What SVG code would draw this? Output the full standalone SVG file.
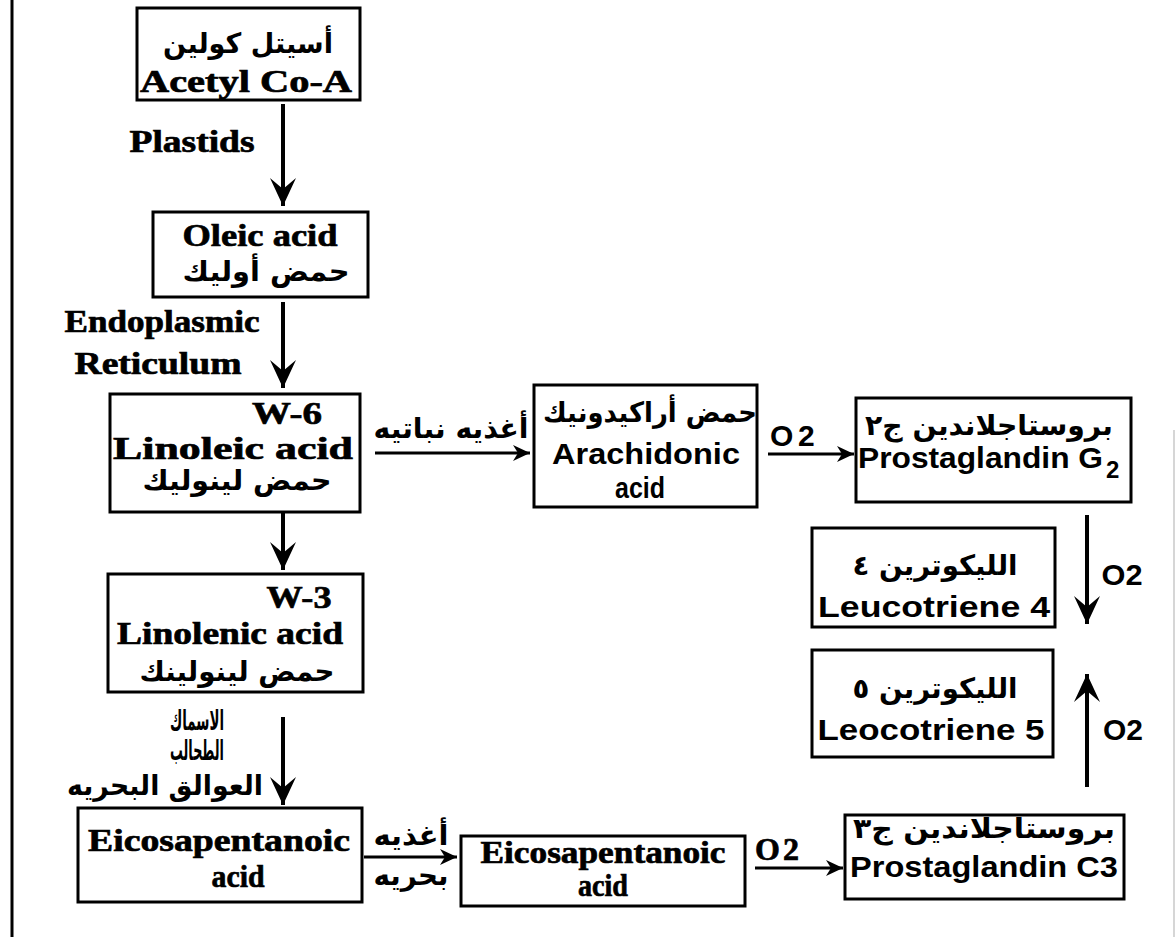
<svg xmlns="http://www.w3.org/2000/svg" width="1176" height="937" viewBox="0 0 1176 937">
<style>
.box{fill:#fff;stroke:#000;stroke-width:3}
.en{font-family:"Liberation Serif","Times New Roman",serif;font-weight:bold;font-size:32px;fill:#000;stroke:#000;stroke-width:0.7}
.sn{font-family:"Liberation Sans",Arial,sans-serif;font-weight:bold;font-size:30px;fill:#000}
.ar{font-family:"DejaVu Sans","Noto Sans",sans-serif;font-weight:bold;font-size:28px;fill:#000}
.shaft{stroke:#000;stroke-width:4;fill:none}
.shaft2{stroke:#000;stroke-width:3;fill:none}
</style>
<defs>
<marker id="big" viewBox="-30 -15 32 30" refX="0" refY="0" markerWidth="32" markerHeight="30" markerUnits="userSpaceOnUse" orient="auto">
<path d="M0,0 L-28,-13 L-17,0 L-28,13 Z" fill="#000"/>
</marker>
<marker id="small" viewBox="-18 -9 20 18" refX="0" refY="0" markerWidth="20" markerHeight="18" markerUnits="userSpaceOnUse" orient="auto">
<path d="M0,0 L-17,-8 L-12,0 L-17,8 Z" fill="#000"/>
</marker>
</defs>
<rect width="1176" height="937" fill="#fff"/>
<line x1="12" y1="0" x2="12" y2="937" stroke="#000" stroke-width="3"/>
<line x1="1174" y1="430" x2="1174" y2="937" stroke="#c8c8c8" stroke-width="1.5"/>

<g id="connectors">
<line class="shaft" x1="283" y1="104" x2="283" y2="206" marker-end="url(#big)"/>
<line class="shaft" x1="283" y1="302" x2="283" y2="388" marker-end="url(#big)"/>
<line class="shaft" x1="283" y1="513" x2="283" y2="570" marker-end="url(#big)"/>
<line class="shaft" x1="283" y1="717" x2="283" y2="805" marker-end="url(#big)"/>
<line class="shaft2" x1="375" y1="453" x2="530" y2="453" marker-end="url(#small)"/>
<line class="shaft2" x1="768" y1="454" x2="854" y2="454" marker-end="url(#small)"/>
<line class="shaft" x1="1087" y1="515" x2="1087" y2="624" marker-end="url(#big)"/>
<line class="shaft" x1="1087" y1="787" x2="1087" y2="674" marker-end="url(#big)"/>
<line class="shaft2" x1="364" y1="857" x2="457" y2="857" marker-end="url(#small)"/>
<line class="shaft2" x1="755" y1="868" x2="843" y2="868" marker-end="url(#small)"/>
<text class="en" x="192" y="152" textLength="125" lengthAdjust="spacingAndGlyphs" text-anchor="middle">Plastids</text>
<text class="en" x="162" y="332" textLength="195" lengthAdjust="spacingAndGlyphs" text-anchor="middle">Endoplasmic</text>
<text class="en" x="158" y="374" textLength="167" lengthAdjust="spacingAndGlyphs" text-anchor="middle">Reticulum</text>
<text class="ar" x="451" y="438" textLength="155" lengthAdjust="spacingAndGlyphs" text-anchor="middle">أغذيه نباتيه</text>
<text class="sn" x="770" y="446" font-size="30">O<tspan x="798">2</tspan></text>
<text class="sn" x="1122" y="585" font-size="28" textLength="41" lengthAdjust="spacingAndGlyphs" text-anchor="middle">O2</text>
<text class="sn" x="1123" y="740" font-size="28" textLength="40" lengthAdjust="spacingAndGlyphs" text-anchor="middle">O2</text>
<text class="ar" x="197" y="730" font-size="20" textLength="54" lengthAdjust="spacingAndGlyphs" text-anchor="middle">الاسماك</text>
<text class="ar" x="197" y="760" font-size="20" textLength="54" lengthAdjust="spacingAndGlyphs" text-anchor="middle">الطحالب</text>
<text class="ar" x="165" y="795" font-size="22" textLength="196" lengthAdjust="spacingAndGlyphs" text-anchor="middle">العوالق البحريه</text>
<text class="ar" x="411" y="845" font-size="22" textLength="75" lengthAdjust="spacingAndGlyphs" text-anchor="middle">أغذيه</text>
<text class="ar" x="411" y="885" font-size="22" textLength="75" lengthAdjust="spacingAndGlyphs" text-anchor="middle">بحريه</text>
<text class="en" x="755" y="860" font-size="30">O<tspan x="783">2</tspan></text>
</g>

<g id="acetyl">
<rect class="box" x="137" y="8" width="223" height="92"/>
<text class="ar" x="248" y="53" font-size="32" textLength="170" lengthAdjust="spacingAndGlyphs" text-anchor="middle">أسيتل كولين</text>
<text class="en" x="246" y="92" font-size="38" textLength="212" lengthAdjust="spacingAndGlyphs" text-anchor="middle">Acetyl Co-A</text>
</g>

<g id="oleic">
<rect class="box" x="153" y="212" width="215" height="85"/>
<text class="en" x="260" y="246" textLength="155" lengthAdjust="spacingAndGlyphs" text-anchor="middle">Oleic acid</text>
<text class="ar" x="266" y="281" textLength="167" lengthAdjust="spacingAndGlyphs" text-anchor="middle">حمض أوليك</text>
</g>

<g id="linoleic">
<rect class="box" x="110" y="394" width="250" height="118"/>
<text class="en" x="287" y="424" font-size="28" textLength="70" lengthAdjust="spacingAndGlyphs" text-anchor="middle">W-6</text>
<text class="en" x="233" y="459" textLength="240" lengthAdjust="spacingAndGlyphs" text-anchor="middle">Linoleic acid</text>
<text class="ar" x="237" y="490" textLength="189" lengthAdjust="spacingAndGlyphs" text-anchor="middle">حمض لينوليك</text>
</g>

<g id="linolenic">
<rect class="box" x="108" y="574" width="255" height="118"/>
<text class="en" x="299" y="608" font-size="28" textLength="65" lengthAdjust="spacingAndGlyphs" text-anchor="middle">W-3</text>
<text class="en" x="230" y="644" textLength="226" lengthAdjust="spacingAndGlyphs" text-anchor="middle">Linolenic acid</text>
<text class="ar" x="237" y="681" textLength="195" lengthAdjust="spacingAndGlyphs" text-anchor="middle">حمض لينولينك</text>
</g>

<g id="epa-left">
<rect class="box" x="78" y="808" width="284" height="94"/>
<text class="en" x="219" y="851" textLength="262" lengthAdjust="spacingAndGlyphs" text-anchor="middle">Eicosapentanoic</text>
<text class="en" x="238" y="887" textLength="53" lengthAdjust="spacingAndGlyphs" text-anchor="middle">acid</text>
</g>

<g id="arachidonic">
<rect class="box" x="534" y="385" width="223" height="122"/>
<text class="ar" x="650" y="422" font-size="30" textLength="214" lengthAdjust="spacingAndGlyphs" text-anchor="middle">حمض أراكيدونيك</text>
<text class="sn" x="646" y="464" font-size="32" textLength="188" lengthAdjust="spacingAndGlyphs" text-anchor="middle">Arachidonic</text>
<text class="sn" x="640" y="498" font-size="32" textLength="50" lengthAdjust="spacingAndGlyphs" text-anchor="middle">acid</text>
</g>

<g id="pg-g2">
<rect class="box" x="856" y="398" width="275" height="104"/>
<text class="ar" x="989" y="435" textLength="248" lengthAdjust="spacingAndGlyphs" text-anchor="middle">بروستاجلاندين ج٢</text>
<text class="sn" x="858" y="468"><tspan textLength="245" lengthAdjust="spacingAndGlyphs">Prostaglandin G</tspan><tspan x="1106" y="478" font-size="24">2</tspan></text>
</g>

<g id="leuco4">
<rect class="box" x="812" y="528" width="243" height="99"/>
<text class="ar" x="935" y="575" textLength="165" lengthAdjust="spacingAndGlyphs" text-anchor="middle">الليكوترين ٤</text>
<text class="sn" x="934" y="617" font-size="32" textLength="232" lengthAdjust="spacingAndGlyphs" text-anchor="middle">Leucotriene 4</text>
</g>

<g id="leuco5">
<rect class="box" x="812" y="650" width="241" height="107"/>
<text class="ar" x="935" y="698" textLength="165" lengthAdjust="spacingAndGlyphs" text-anchor="middle">الليكوترين ٥</text>
<text class="sn" x="931" y="740" font-size="32" textLength="227" lengthAdjust="spacingAndGlyphs" text-anchor="middle">Leocotriene 5</text>
</g>

<g id="epa-mid">
<rect class="box" x="461" y="836" width="284" height="70"/>
<text class="en" x="603" y="863" textLength="245" lengthAdjust="spacingAndGlyphs" text-anchor="middle">Eicosapentanoic</text>
<text class="en" x="603" y="896" textLength="50" lengthAdjust="spacingAndGlyphs" text-anchor="middle">acid</text>
</g>

<g id="pg-c3">
<rect class="box" x="845" y="815" width="279" height="84"/>
<text class="ar" x="984" y="838" font-size="24" textLength="262" lengthAdjust="spacingAndGlyphs" text-anchor="middle">بروستاجلاندين ج٣</text>
<text class="sn" x="984" y="877" font-size="28" textLength="268" lengthAdjust="spacingAndGlyphs" text-anchor="middle">Prostaglandin C3</text>
</g>
</svg>
